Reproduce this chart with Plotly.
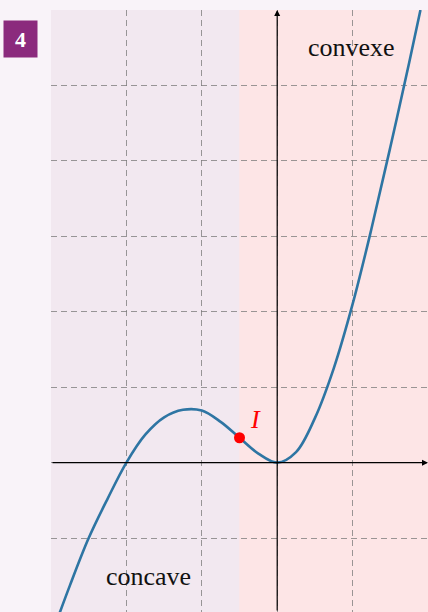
import plotly.graph_objects as go

# points
curve_x = [-2.95, -2.75, -2.5, -2.25, -2.0, -1.75, -1.5, -1.25, -1.0, -0.75, -0.5, -0.25,
           0.0, 0.25, 0.5, 0.75, 1.0, 1.25, 1.5, 1.75, 1.9]
curve_y = [-2.17, -1.63, -1.0, -0.48, 0.0, 0.37, 0.60, 0.70, 0.69, 0.54, 0.33, 0.12,
           0.0, 0.14, 0.59, 1.25, 2.1, 3.1, 4.18, 5.3, 6.0]

inflexion_x = [-0.5]
inflexion_y = [0.33]

x_range = [-3, 2]
y_range = [-1.98, 6]

LEFT_BG = "#f2e8f0"
RIGHT_BG = "#fde5e6"
PAGE_BG = "#f9f3f9"
SERIF = "Liberation Serif, DejaVu Serif, serif"

fig = go.Figure()

fig.add_trace(go.Scatter(
    x=curve_x, y=curve_y,
    mode="lines",
    line=dict(color="#2e75a3", width=2.6, shape="spline", smoothing=1.0),
    hoverinfo="skip"
))

fig.add_trace(go.Scatter(
    x=inflexion_x, y=inflexion_y,
    mode="markers",
    marker=dict(color="#ff0000", size=11),
    hoverinfo="skip"
))

# concave / convexe zones
fig.add_shape(type="rect", xref="x", yref="paper", x0=x_range[0], x1=inflexion_x[0],
              y0=0, y1=1, fillcolor=LEFT_BG, line_width=0, layer="below")
fig.add_shape(type="rect", xref="x", yref="paper", x0=inflexion_x[0], x1=x_range[1],
              y0=0, y1=1, fillcolor=RIGHT_BG, line_width=0, layer="below")

# axes with arrows
fig.add_annotation(x=x_range[1], y=0, ax=x_range[0], ay=0, xref="x", yref="y",
                   axref="x", ayref="y", showarrow=True, arrowhead=2, arrowsize=1,
                   arrowwidth=1.2, arrowcolor="#000000", text="")
fig.add_annotation(x=0, y=y_range[1], ax=0, ay=y_range[0], xref="x", yref="y",
                   axref="x", ayref="y", showarrow=True, arrowhead=2, arrowsize=1,
                   arrowwidth=1.2, arrowcolor="#000000", text="")

fig.add_annotation(x=0.99, y=5.5, text="convexe", showarrow=False,
                   font=dict(family=SERIF, size=26, color="#111111"))
fig.add_annotation(x=-1.71, y=-1.51, text="concave", showarrow=False,
                   font=dict(family=SERIF, size=26, color="#111111"))
fig.add_annotation(x=-0.29, y=0.57, text="<i>I</i>", showarrow=False,
                   font=dict(family=SERIF, size=26, color="#ff0000"))

# exercise number
fig.add_annotation(xref="paper", yref="paper", x=-0.0809, y=0.9518,
                   xanchor="center", yanchor="middle", text="<b>4</b>",
                   showarrow=False, bgcolor="#8b2a7d", width=31, height=34,
                   font=dict(family=SERIF, size=22, color="#ffffff"))

fig.update_layout(
    width=428, height=612,
    margin=dict(l=51, r=0, t=10, b=0),
    paper_bgcolor=PAGE_BG,
    plot_bgcolor=RIGHT_BG,
    showlegend=False,
    xaxis=dict(range=x_range, dtick=1, tick0=0, showticklabels=False, ticks="",
               showgrid=True, gridcolor="rgba(120,120,120,0.75)", griddash="6px,4px",
               gridwidth=1, zeroline=False, showline=False, fixedrange=True),
    yaxis=dict(range=y_range, dtick=1, tick0=0, showticklabels=False, ticks="",
               showgrid=True, gridcolor="rgba(120,120,120,0.75)", griddash="6px,4px",
               gridwidth=1, zeroline=False, showline=False, fixedrange=True),
)

fig.write_html("out.html", config=dict(displayModeBar=False),
               post_script="document.body.style.margin='0';")
